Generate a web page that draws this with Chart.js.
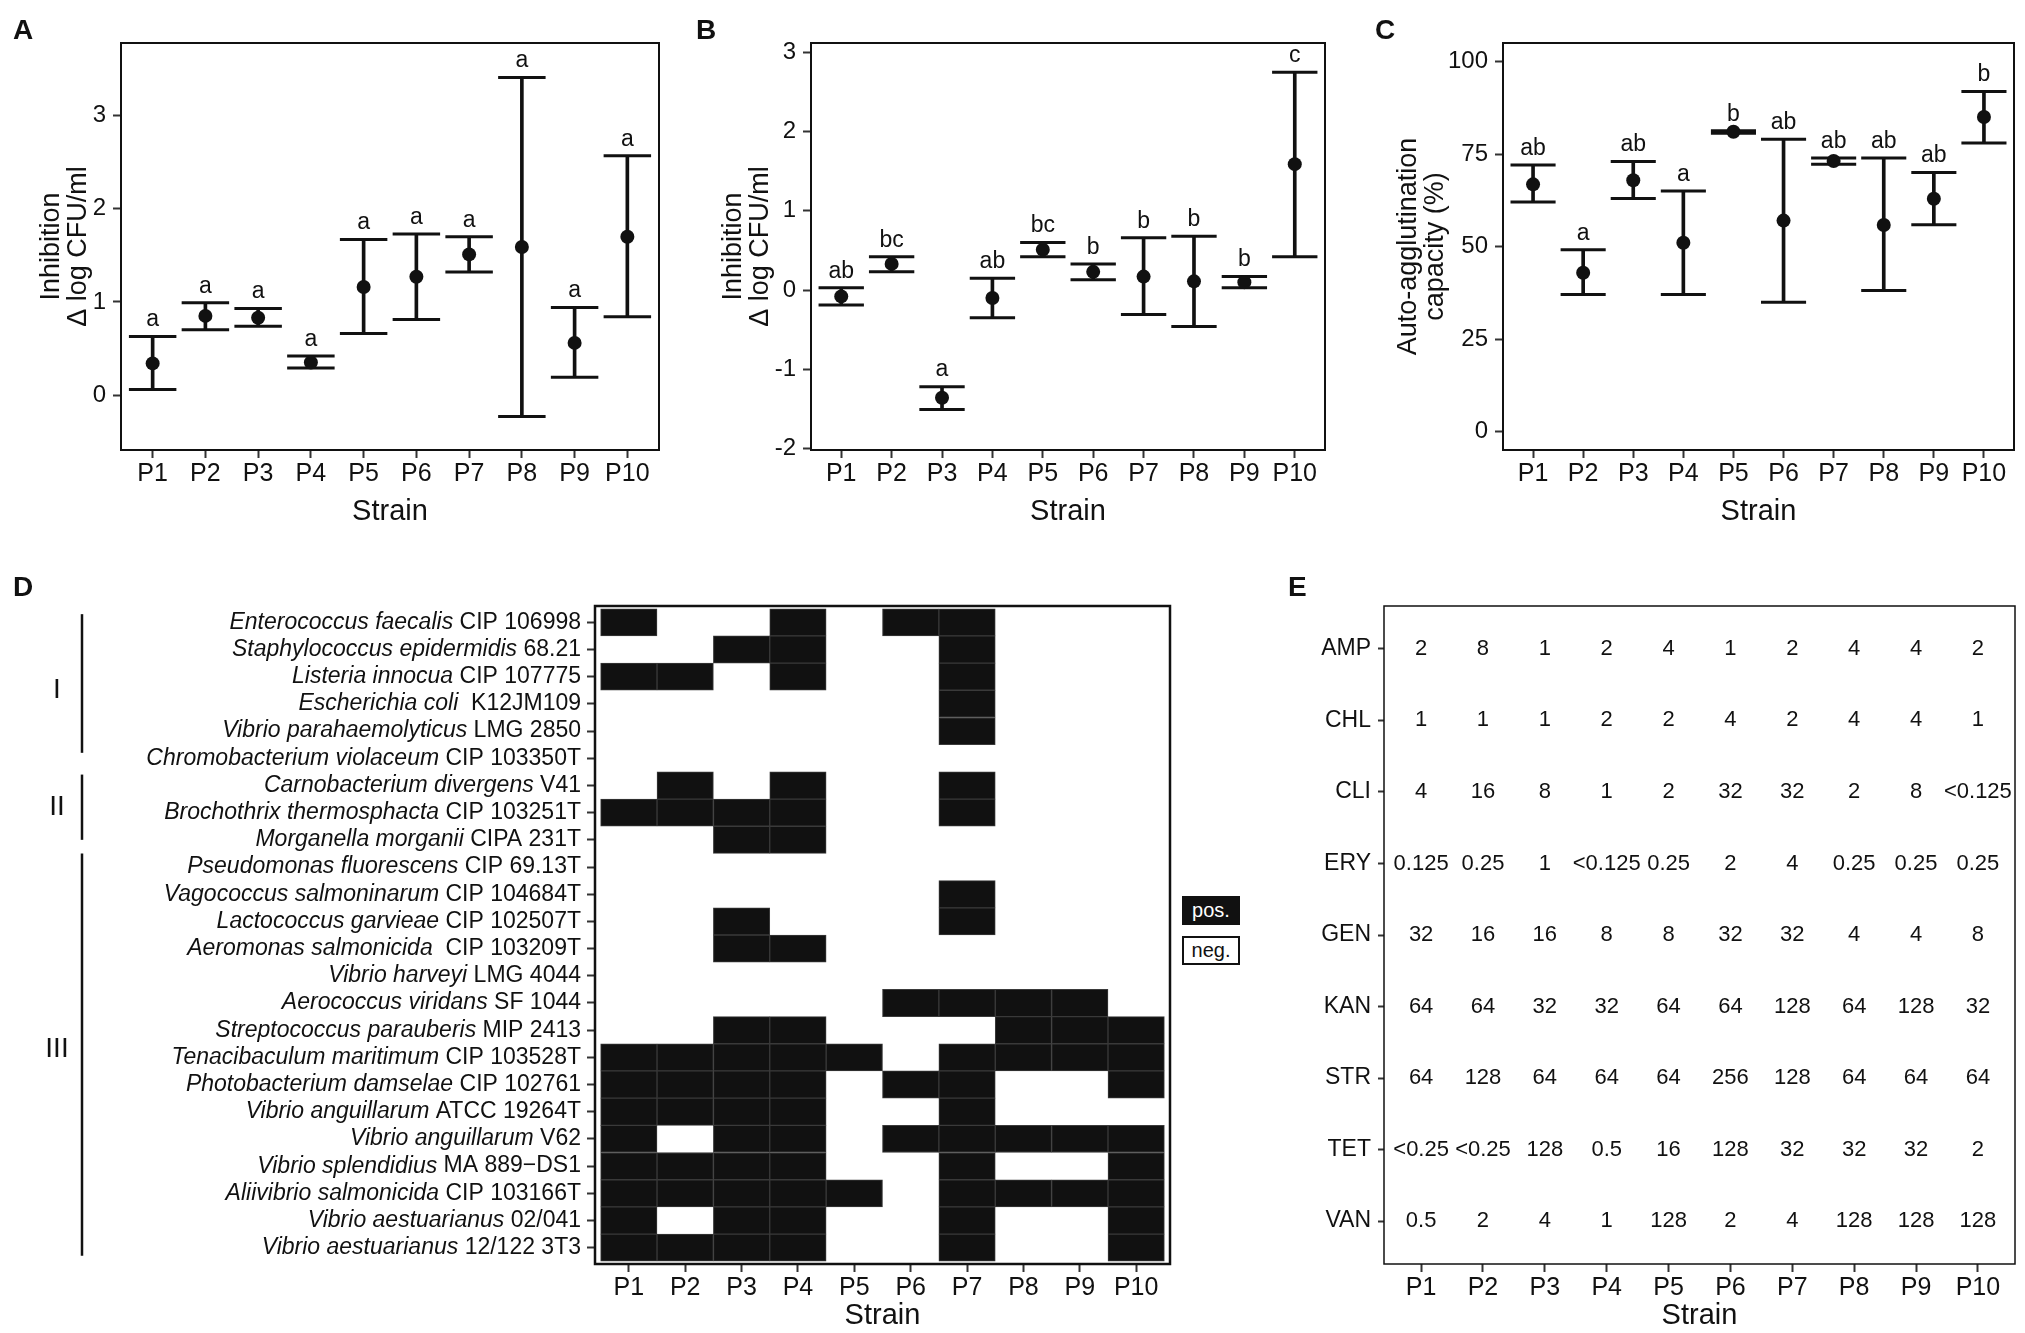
<!DOCTYPE html>
<html>
<head>
<meta charset="utf-8">
<script src="https://cdn.jsdelivr.net/npm/chart.js@4.4.1/dist/chart.umd.min.js"></script>
<style>
  body { margin: 0; background: #fff; }
  #fig { position: relative; width: 2025px; height: 1333px; overflow: hidden; font-family: 'Liberation Sans', Arial, sans-serif; color: #111; }
  canvas { position: absolute; }
  .tag { position: absolute; font-weight: bold; font-size: 28px; line-height: 28px; }
  .key { position: absolute; width: 58px; height: 29px; box-sizing: border-box; border: 2px solid #111; font-size: 20px; line-height: 25px; text-align: center; }
</style>
</head>
<body>
<div id="fig">
  <canvas id="chartA" width="690" height="540" style="left:0px;top:0px"></canvas>
  <canvas id="chartB" width="680" height="540" style="left:690px;top:0px"></canvas>
  <canvas id="chartC" width="655" height="540" style="left:1370px;top:0px"></canvas>
  <canvas id="chartD" width="1260" height="773" style="left:0px;top:560px"></canvas>
  <canvas id="chartE" width="765" height="773" style="left:1260px;top:560px"></canvas>
  <div class="tag" style="left:13px;top:16px">A</div>
  <div class="tag" style="left:696px;top:16px">B</div>
  <div class="tag" style="left:1375px;top:16px">C</div>
  <div class="tag" style="left:13px;top:573px">D</div>
  <div class="tag" style="left:1288px;top:573px">E</div>
  <div class="key" style="left:1182px;top:896px;background:#111;color:#fff">pos.</div>
  <div class="key" style="left:1182px;top:936px;background:#fff;color:#111">neg.</div>
</div>
<script>
'use strict';

// ************************* DATA **********************************
const strains = ['P1', 'P2', 'P3', 'P4', 'P5', 'P6', 'P7', 'P8', 'P9', 'P10'];

// A - inhibition (delta log CFU/ml), first assay
const inhibAMean = [0.34, 0.85, 0.83, 0.35, 1.16, 1.27, 1.51, 1.59, 0.56, 1.70];
const inhibALow = [0.06, 0.70, 0.74, 0.29, 0.66, 0.81, 1.32, -0.23, 0.19, 0.84];
const inhibAHigh = [0.63, 0.99, 0.93, 0.42, 1.67, 1.73, 1.70, 3.41, 0.94, 2.57];
const inhibALetters = ['a', 'a', 'a', 'a', 'a', 'a', 'a', 'a', 'a', 'a'];
const inhibATicks = [0, 1, 2, 3];

// B - inhibition, second assay
const inhibBMean = [-0.08, 0.33, -1.36, -0.10, 0.51, 0.23, 0.17, 0.11, 0.10, 1.59];
const inhibBLow = [-0.19, 0.23, -1.51, -0.35, 0.42, 0.13, -0.31, -0.46, 0.03, 0.42];
const inhibBHigh = [0.03, 0.42, -1.22, 0.15, 0.60, 0.33, 0.66, 0.68, 0.17, 2.75];
const inhibBLetters = ['ab', 'bc', 'a', 'ab', 'bc', 'b', 'b', 'b', 'b', 'c'];
const inhibBTicks = [-2, -1, 0, 1, 2, 3];

// C - auto-agglutination (%)
const aggMean = [66.8, 42.9, 67.9, 51.0, 81.0, 57.0, 73.1, 55.8, 62.9, 85.0];
const aggLow = [62.0, 37.0, 63.0, 37.0, 80.6, 34.9, 72.2, 38.1, 55.9, 78.0];
const aggHigh = [72.0, 49.1, 73.0, 65.0, 81.3, 79.0, 73.9, 73.9, 70.0, 91.9];
const aggLetters = ['ab', 'a', 'ab', 'a', 'b', 'ab', 'ab', 'ab', 'ab', 'b'];
const aggTicks = [0, 25, 50, 75, 100];

// D - antagonism against host strains (1 = pos.)
const hostSpecies = [
  'Enterococcus faecalis', 'Staphylococcus epidermidis', 'Listeria innocua', 'Escherichia coli',
  'Vibrio parahaemolyticus', 'Chromobacterium violaceum', 'Carnobacterium divergens',
  'Brochothrix thermosphacta', 'Morganella morganii', 'Pseudomonas fluorescens',
  'Vagococcus salmoninarum', 'Lactococcus garvieae', 'Aeromonas salmonicida', 'Vibrio harveyi',
  'Aerococcus viridans', 'Streptococcus parauberis', 'Tenacibaculum maritimum',
  'Photobacterium damselae', 'Vibrio anguillarum', 'Vibrio anguillarum', 'Vibrio splendidius',
  'Aliivibrio salmonicida', 'Vibrio aestuarianus', 'Vibrio aestuarianus'
];
const hostCodes = [
  'CIP 106998', '68.21', 'CIP 107775', ' K12JM109', 'LMG 2850', 'CIP 103350T', 'V41',
  'CIP 103251T', 'CIPA 231T', 'CIP 69.13T', 'CIP 104684T', 'CIP 102507T', ' CIP 103209T',
  'LMG 4044', 'SF 1044', 'MIP 2413', 'CIP 103528T', 'CIP 102761', 'ATCC 19264T', 'V62',
  'MA 889\u2212DS1', 'CIP 103166T', '02/041', '12/122 3T3'
];
const hostActivity = [
  [1, 0, 0, 1, 0, 1, 1, 0, 0, 0],
  [0, 0, 1, 1, 0, 0, 1, 0, 0, 0],
  [1, 1, 0, 1, 0, 0, 1, 0, 0, 0],
  [0, 0, 0, 0, 0, 0, 1, 0, 0, 0],
  [0, 0, 0, 0, 0, 0, 1, 0, 0, 0],
  [0, 0, 0, 0, 0, 0, 0, 0, 0, 0],
  [0, 1, 0, 1, 0, 0, 1, 0, 0, 0],
  [1, 1, 1, 1, 0, 0, 1, 0, 0, 0],
  [0, 0, 1, 1, 0, 0, 0, 0, 0, 0],
  [0, 0, 0, 0, 0, 0, 0, 0, 0, 0],
  [0, 0, 0, 0, 0, 0, 1, 0, 0, 0],
  [0, 0, 1, 0, 0, 0, 1, 0, 0, 0],
  [0, 0, 1, 1, 0, 0, 0, 0, 0, 0],
  [0, 0, 0, 0, 0, 0, 0, 0, 0, 0],
  [0, 0, 0, 0, 0, 1, 1, 1, 1, 0],
  [0, 0, 1, 1, 0, 0, 0, 1, 1, 1],
  [1, 1, 1, 1, 1, 0, 1, 1, 1, 1],
  [1, 1, 1, 1, 0, 1, 1, 0, 0, 1],
  [1, 1, 1, 1, 0, 0, 1, 0, 0, 0],
  [1, 0, 1, 1, 0, 1, 1, 1, 1, 1],
  [1, 1, 1, 1, 0, 0, 1, 0, 0, 1],
  [1, 1, 1, 1, 1, 0, 1, 1, 1, 1],
  [1, 0, 1, 1, 0, 0, 1, 0, 0, 1],
  [1, 1, 1, 1, 0, 0, 1, 0, 0, 1]
];
// host groups: bracket from/to and label position, in row units
const groupNames = ['I', 'II', 'III'];
const groupFrom = [-0.3, 5.6, 8.5];
const groupTo = [4.8, 8.0, 23.3];
const groupMid = [2.5, 6.8, 15.7];

// E - MIC values
const antibiotics = ['AMP', 'CHL', 'CLI', 'ERY', 'GEN', 'KAN', 'STR', 'TET', 'VAN'];
const micTable = [
  ['2', '8', '1', '2', '4', '1', '2', '4', '4', '2'],
  ['1', '1', '1', '2', '2', '4', '2', '4', '4', '1'],
  ['4', '16', '8', '1', '2', '32', '32', '2', '8', '<0.125'],
  ['0.125', '0.25', '1', '<0.125', '0.25', '2', '4', '0.25', '0.25', '0.25'],
  ['32', '16', '16', '8', '8', '32', '32', '4', '4', '8'],
  ['64', '64', '32', '32', '64', '64', '128', '64', '128', '32'],
  ['64', '128', '64', '64', '64', '256', '128', '64', '64', '64'],
  ['<0.25', '<0.25', '128', '0.5', '16', '128', '32', '32', '32', '2'],
  ['0.5', '2', '4', '1', '128', '2', '4', '128', '128', '128']
];

// ************************ HELPERS ********************************
const ink = '#111111';
const tickInk = '#333333';
const FONT = "'Liberation Sans', Arial, sans-serif";
Chart.defaults.font.family = FONT;
Chart.defaults.color = ink;
Chart.defaults.animation = false;
Chart.defaults.events = [];
Chart.defaults.plugins.legend.display = false;
Chart.defaults.plugins.tooltip.enabled = false;

const panelBox = (lineWidth) => ({
  id: 'panelBox',
  afterDatasetsDraw(chart) {
    const { left, top, width, height } = chart.chartArea;
    const ctx = chart.ctx;
    ctx.save();
    ctx.lineWidth = lineWidth;
    ctx.strokeStyle = ink;
    ctx.strokeRect(left, top, width, height);
    ctx.restore();
  }
});

const letterPlugin = (letters) => ({
  id: 'letters',
  afterDatasetsDraw(chart) {
    const ctx = chart.ctx;
    ctx.save();
    ctx.font = '23px ' + FONT;
    ctx.fillStyle = ink;
    ctx.textAlign = 'center';
    ctx.textBaseline = 'bottom';
    chart.getDatasetMeta(1).data.forEach((pt, i) => ctx.fillText(letters[i], pt.x, pt.y - 5));
    ctx.restore();
  }
});

function strainAxis(height, titlePad) {
  return {
    type: 'linear', min: 0.4, max: 10.6, offset: false,
    grid: { drawOnChartArea: false, offset: false, tickLength: 8, tickWidth: 2, tickColor: tickInk },
    border: { display: false },
    afterBuildTicks: axis => { axis.ticks = strains.map((s, i) => ({ value: i + 1 })); },
    ticks: { callback: v => strains[v - 1], font: { size: 25 }, color: ink, padding: 1, maxRotation: 0, autoSkip: false },
    title: { display: true, text: 'Strain', font: { size: 29 }, color: ink, padding: { top: 0, bottom: titlePad } },
    afterFit: axis => { axis.height = height; }
  };
}

// cap half-width = 0.45 of a strain step, taken from the x scale
const capRadius = ctx => {
  const s = ctx.chart.scales.x;
  return Math.abs(s.getPixelForValue(1.45) - s.getPixelForValue(1));
};

function errorChart(id, mean, low, high, letters, yTicks, yMin, yMax, yTitle, axisWidth, titlePad, rightPad) {
  const pts = arr => arr.map((v, i) => ({ x: i + 1, y: v }));
  return new Chart(document.getElementById(id), {
    type: 'bar',
    data: {
      datasets: [
        { type: 'bar', data: low.map((v, i) => ({ x: i + 1, y: [v, high[i]] })), backgroundColor: ink,
          barThickness: 3, grouped: false, order: 3 },
        { type: 'scatter', data: pts(high), pointStyle: 'line', pointRadius: capRadius, pointBorderColor: ink,
          pointBorderWidth: 3, order: 2 },
        { type: 'scatter', data: pts(low), pointStyle: 'line', pointRadius: capRadius, pointBorderColor: ink,
          pointBorderWidth: 3, order: 2 },
        { type: 'scatter', data: pts(mean), pointStyle: 'circle', pointRadius: 7, pointBackgroundColor: ink,
          pointBorderWidth: 0, order: 1 }
      ]
    },
    options: {
      responsive: false,
      layout: { padding: { top: 43, right: rightPad, left: 0, bottom: 0 } },
      scales: {
        x: strainAxis(90, 11),
        y: {
          type: 'linear', min: yMin, max: yMax,
          grid: { drawOnChartArea: false, tickLength: 8, tickWidth: 2, tickColor: tickInk },
          border: { display: false },
          afterBuildTicks: axis => { axis.ticks = yTicks.map(v => ({ value: v })); },
          ticks: { font: { size: 24 }, color: ink, padding: 7 },
          title: { display: true, text: yTitle, font: { size: 27, lineHeight: 1.0 }, color: ink,
            padding: { top: titlePad, bottom: 0 } },
          afterFit: axis => { axis.width = axisWidth; }
        }
      }
    },
    plugins: [panelBox(2), letterPlugin(letters)]
  });
}

// ************************ PANELS A-C ********************************
errorChart('chartA', inhibAMean, inhibALow, inhibAHigh, inhibALetters, inhibATicks, -0.59, 3.78,
  ['Inhibition', '\u0394 log CFU/ml'], 121, 38, 31);
errorChart('chartB', inhibBMean, inhibBLow, inhibBHigh, inhibBLetters, inhibBTicks, -2.02, 3.12,
  ['Inhibition', '\u0394 log CFU/ml'], 121, 30, 45);
errorChart('chartC', aggMean, aggLow, aggHigh, aggLetters, aggTicks, -5, 105,
  ['Auto-agglutination', 'capacity (%)'], 133, 25, 11);

// ************************ PANEL D ********************************
const hostLabels = {
  id: 'hostLabels',
  afterDraw(chart) {
    const y = chart.scales.y;
    const ctx = chart.ctx;
    const right = chart.chartArea.left - 14;
    ctx.save();
    ctx.fillStyle = ink;
    ctx.textBaseline = 'middle';
    ctx.textAlign = 'left';
    hostSpecies.forEach((sp, r) => {
      const py = y.getPixelForValue(r);
      ctx.font = '23px ' + FONT;
      const codeW = ctx.measureText(hostCodes[r]).width;
      ctx.font = 'italic 23px ' + FONT;
      const spW = ctx.measureText(sp + ' ').width;
      ctx.fillText(sp + ' ', right - codeW - spW, py);
      ctx.font = '23px ' + FONT;
      ctx.fillText(hostCodes[r], right - codeW, py);
    });
    ctx.strokeStyle = ink;
    ctx.lineWidth = 2.5;
    ctx.textAlign = 'center';
    ctx.font = '28px ' + FONT;
    groupNames.forEach((g, k) => {
      ctx.beginPath();
      ctx.moveTo(82, y.getPixelForValue(groupFrom[k]));
      ctx.lineTo(82, y.getPixelForValue(groupTo[k]));
      ctx.stroke();
      ctx.fillText(g, 57, y.getPixelForValue(groupMid[k]));
    });
    ctx.restore();
  }
};

new Chart(document.getElementById('chartD'), {
  type: 'bar',
  data: {
    datasets: strains.map((s, j) => ({
      label: s,
      data: hostActivity.map((row, r) => ({ y: r, x: row[j] ? [j + 0.5, j + 1.5] : null })).filter(c => c.x !== null),
      backgroundColor: ink,
      borderColor: '#3a3a3a',
      borderWidth: 1,
      borderSkipped: false,
      grouped: false,
      categoryPercentage: 1,
      barPercentage: 1
    }))
  },
  options: {
    indexAxis: 'y',
    responsive: false,
    layout: { padding: { top: 46, right: 90, left: 0, bottom: 0 } },
    scales: {
      x: strainAxis(69, 0),
      y: {
        type: 'linear', reverse: true, min: -0.6, max: hostSpecies.length - 0.4, offset: false,
        grid: { drawOnChartArea: false, offset: false, tickLength: 8, tickWidth: 2, tickColor: tickInk },
        border: { display: false },
        afterBuildTicks: axis => { axis.ticks = hostSpecies.map((s, i) => ({ value: i })); },
        ticks: { display: false },
        afterFit: axis => { axis.width = 595; }
      }
    }
  },
  plugins: [panelBox(2.5), hostLabels]
});

// ************************ PANEL E ********************************
const micText = {
  id: 'micText',
  afterDatasetsDraw(chart) {
    const ctx = chart.ctx;
    ctx.save();
    ctx.font = '22px ' + FONT;
    ctx.fillStyle = ink;
    ctx.textAlign = 'center';
    ctx.textBaseline = 'middle';
    micTable.forEach((row, r) => {
      chart.getDatasetMeta(r).data.forEach((pt, j) => ctx.fillText(row[j], pt.x, pt.y));
    });
    ctx.restore();
  }
};

new Chart(document.getElementById('chartE'), {
  type: 'scatter',
  data: {
    datasets: micTable.map((row, r) => ({
      label: antibiotics[r],
      data: row.map((v, j) => ({ x: j + 1, y: r })),
      pointRadius: 0
    }))
  },
  options: {
    responsive: false,
    layout: { padding: { top: 46, right: 10, left: 0, bottom: 0 } },
    scales: {
      x: strainAxis(69, 0),
      y: {
        type: 'linear', reverse: true, min: -0.6, max: antibiotics.length - 0.4,
        grid: { drawOnChartArea: false, tickLength: 6, tickWidth: 2, tickColor: tickInk },
        border: { display: false },
        afterBuildTicks: axis => { axis.ticks = antibiotics.map((a, i) => ({ value: i })); },
        ticks: { callback: v => antibiotics[v], font: { size: 23 }, color: ink, padding: 7 },
        afterFit: axis => { axis.width = 124; }
      }
    }
  },
  plugins: [panelBox(1.5), micText]
});
</script>
</body>
</html>
